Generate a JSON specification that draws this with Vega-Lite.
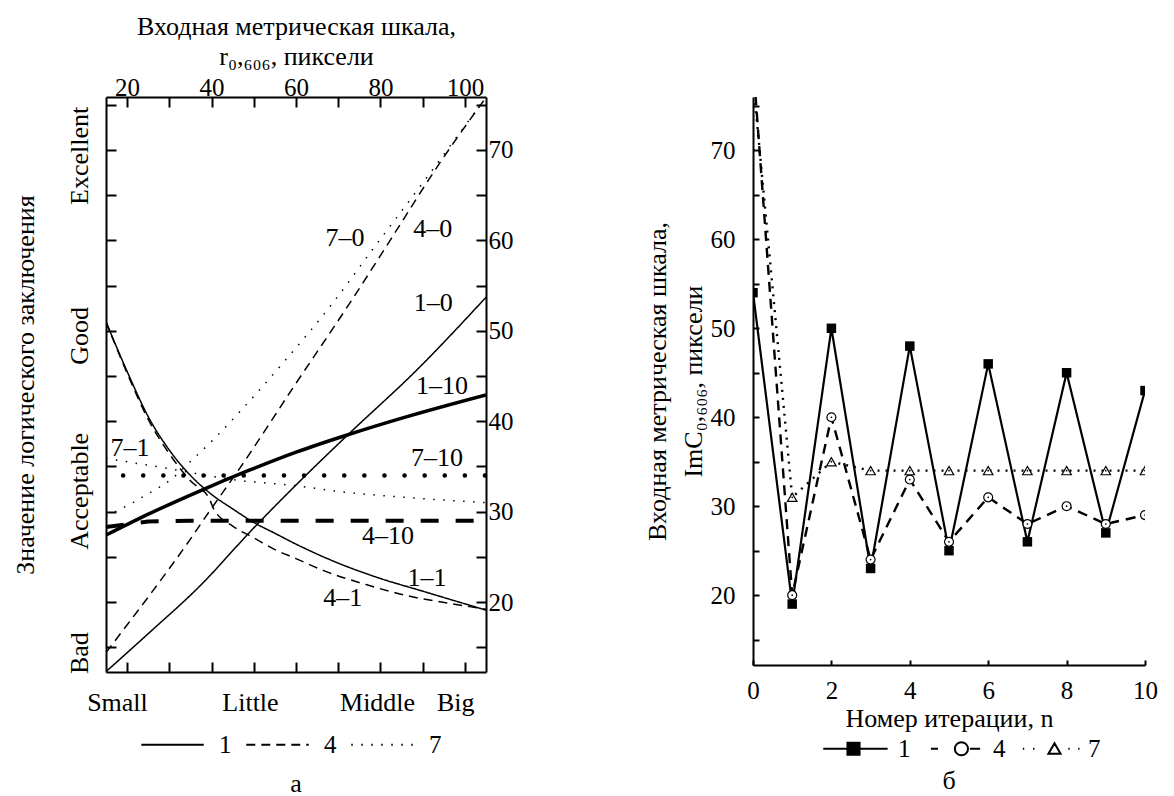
{
  "$schema": "https://vega.github.io/schema/vega-lite/v6.json",
  "padding": {"left": 11, "top": 13, "right": 10, "bottom": 3},
  "bounds": "flush",
  "spacing": 267,
  "datasets": {
    "curves": [
      {"series": "1–0", "g": "1", "k": "0", "x": 15, "y": 12.3},
      {"series": "1–0", "g": "1", "k": "0", "x": 25, "y": 16.5},
      {"series": "1–0", "g": "1", "k": "0", "x": 37.3, "y": 21.8},
      {"series": "1–0", "g": "1", "k": "0", "x": 49.8, "y": 28.1},
      {"series": "1–0", "g": "1", "k": "0", "x": 61, "y": 33.4},
      {"series": "1–0", "g": "1", "k": "0", "x": 72.3, "y": 38.5},
      {"series": "1–0", "g": "1", "k": "0", "x": 88.7, "y": 45.7},
      {"series": "1–0", "g": "1", "k": "0", "x": 105, "y": 53.7},
      {"series": "4–0", "g": "4", "k": "0", "x": 15, "y": 14.4},
      {"series": "4–0", "g": "4", "k": "0", "x": 17.6, "y": 16},
      {"series": "4–0", "g": "4", "k": "0", "x": 25.4, "y": 20.8},
      {"series": "4–0", "g": "4", "k": "0", "x": 34.9, "y": 26.9},
      {"series": "4–0", "g": "4", "k": "0", "x": 39.6, "y": 30.1},
      {"series": "4–0", "g": "4", "k": "0", "x": 46.7, "y": 34.8},
      {"series": "4–0", "g": "4", "k": "0", "x": 59.3, "y": 43.7},
      {"series": "4–0", "g": "4", "k": "0", "x": 73.5, "y": 53.6},
      {"series": "4–0", "g": "4", "k": "0", "x": 82.3, "y": 60},
      {"series": "4–0", "g": "4", "k": "0", "x": 93.4, "y": 68.1},
      {"series": "4–0", "g": "4", "k": "0", "x": 103.6, "y": 74.9},
      {"series": "4–0", "g": "4", "k": "0", "x": 105, "y": 75.8},
      {"series": "7–0", "g": "7", "k": "0", "x": 15, "y": 29.5},
      {"series": "7–0", "g": "7", "k": "0", "x": 21.4, "y": 31},
      {"series": "7–0", "g": "7", "k": "0", "x": 24.7, "y": 31.9},
      {"series": "7–0", "g": "7", "k": "0", "x": 30.5, "y": 33.6},
      {"series": "7–0", "g": "7", "k": "0", "x": 34.9, "y": 35.5},
      {"series": "7–0", "g": "7", "k": "0", "x": 40.3, "y": 37.9},
      {"series": "7–0", "g": "7", "k": "0", "x": 45.6, "y": 40.5},
      {"series": "7–0", "g": "7", "k": "0", "x": 50.3, "y": 42.9},
      {"series": "7–0", "g": "7", "k": "0", "x": 57.4, "y": 46.7},
      {"series": "7–0", "g": "7", "k": "0", "x": 68.1, "y": 52.7},
      {"series": "7–0", "g": "7", "k": "0", "x": 78, "y": 58.9},
      {"series": "7–0", "g": "7", "k": "0", "x": 90.1, "y": 66.4},
      {"series": "7–0", "g": "7", "k": "0", "x": 99.6, "y": 72.4},
      {"series": "7–0", "g": "7", "k": "0", "x": 104, "y": 75.2},
      {"series": "1–1", "g": "1", "k": "1", "x": 15, "y": 51},
      {"series": "1–1", "g": "1", "k": "1", "x": 20, "y": 45.5},
      {"series": "1–1", "g": "1", "k": "1", "x": 25, "y": 40.5},
      {"series": "1–1", "g": "1", "k": "1", "x": 30, "y": 36.8},
      {"series": "1–1", "g": "1", "k": "1", "x": 35, "y": 34},
      {"series": "1–1", "g": "1", "k": "1", "x": 40, "y": 31.9},
      {"series": "1–1", "g": "1", "k": "1", "x": 45, "y": 30.3},
      {"series": "1–1", "g": "1", "k": "1", "x": 50, "y": 28.8},
      {"series": "1–1", "g": "1", "k": "1", "x": 55, "y": 27.6},
      {"series": "1–1", "g": "1", "k": "1", "x": 60, "y": 26.4},
      {"series": "1–1", "g": "1", "k": "1", "x": 70, "y": 24.3},
      {"series": "1–1", "g": "1", "k": "1", "x": 80, "y": 22.6},
      {"series": "1–1", "g": "1", "k": "1", "x": 90, "y": 21.2},
      {"series": "1–1", "g": "1", "k": "1", "x": 100, "y": 19.8},
      {"series": "1–1", "g": "1", "k": "1", "x": 105, "y": 19.1},
      {"series": "4–1", "g": "4", "k": "1", "x": 15, "y": 51},
      {"series": "4–1", "g": "4", "k": "1", "x": 20, "y": 45.3},
      {"series": "4–1", "g": "4", "k": "1", "x": 25, "y": 40.2},
      {"series": "4–1", "g": "4", "k": "1", "x": 30, "y": 36.4},
      {"series": "4–1", "g": "4", "k": "1", "x": 35, "y": 33.4},
      {"series": "4–1", "g": "4", "k": "1", "x": 39.5, "y": 31.4},
      {"series": "4–1", "g": "4", "k": "1", "x": 40.5, "y": 30.3},
      {"series": "4–1", "g": "4", "k": "1", "x": 45, "y": 28.4},
      {"series": "4–1", "g": "4", "k": "1", "x": 50, "y": 27.1},
      {"series": "4–1", "g": "4", "k": "1", "x": 55, "y": 25.8},
      {"series": "4–1", "g": "4", "k": "1", "x": 60, "y": 24.8},
      {"series": "4–1", "g": "4", "k": "1", "x": 66.4, "y": 23.5},
      {"series": "4–1", "g": "4", "k": "1", "x": 76.8, "y": 21.9},
      {"series": "4–1", "g": "4", "k": "1", "x": 86.3, "y": 20.7},
      {"series": "4–1", "g": "4", "k": "1", "x": 95.8, "y": 19.9},
      {"series": "4–1", "g": "4", "k": "1", "x": 105, "y": 19.2},
      {"series": "7–1", "g": "7", "k": "1", "x": 15, "y": 35.9},
      {"series": "7–1", "g": "7", "k": "1", "x": 21.4, "y": 35.4},
      {"series": "7–1", "g": "7", "k": "1", "x": 29.4, "y": 34.8},
      {"series": "7–1", "g": "7", "k": "1", "x": 40, "y": 33.9},
      {"series": "7–1", "g": "7", "k": "1", "x": 47.4, "y": 33.4},
      {"series": "7–1", "g": "7", "k": "1", "x": 54.6, "y": 33.1},
      {"series": "7–1", "g": "7", "k": "1", "x": 61, "y": 32.8},
      {"series": "7–1", "g": "7", "k": "1", "x": 70.4, "y": 32.2},
      {"series": "7–1", "g": "7", "k": "1", "x": 82.3, "y": 31.7},
      {"series": "7–1", "g": "7", "k": "1", "x": 94.1, "y": 31.3},
      {"series": "7–1", "g": "7", "k": "1", "x": 105, "y": 31},
      {"series": "1–10", "g": "1", "k": "10", "x": 15, "y": 27.4},
      {"series": "1–10", "g": "1", "k": "10", "x": 25.4, "y": 29.8},
      {"series": "1–10", "g": "1", "k": "10", "x": 37.3, "y": 32.3},
      {"series": "1–10", "g": "1", "k": "10", "x": 49.1, "y": 34.6},
      {"series": "1–10", "g": "1", "k": "10", "x": 60.2, "y": 36.6},
      {"series": "1–10", "g": "1", "k": "10", "x": 72.3, "y": 38.5},
      {"series": "1–10", "g": "1", "k": "10", "x": 86.3, "y": 40.5},
      {"series": "1–10", "g": "1", "k": "10", "x": 105, "y": 42.9},
      {"series": "4–10", "g": "4", "k": "10", "x": 15, "y": 28.3},
      {"series": "4–10", "g": "4", "k": "10", "x": 25, "y": 28.9},
      {"series": "4–10", "g": "4", "k": "10", "x": 35, "y": 29},
      {"series": "4–10", "g": "4", "k": "10", "x": 105, "y": 29},
      {"series": "7–10", "g": "7", "k": "10", "x": 15, "y": 34},
      {"series": "7–10", "g": "7", "k": "10", "x": 105, "y": 34}
    ],
    "labels": [
      {"label": "7–0", "x": 71.6, "y": 60.3},
      {"label": "4–0", "x": 92.4, "y": 61.2},
      {"label": "1–0", "x": 92.5, "y": 53.1},
      {"label": "1–10", "x": 94.6, "y": 43.9},
      {"label": "7–10", "x": 93.4, "y": 35.9},
      {"label": "7–1", "x": 20.7, "y": 37.0},
      {"label": "4–10", "x": 81.8, "y": 27.3},
      {"label": "1–1", "x": 91, "y": 22.7},
      {"label": "4–1", "x": 71.1, "y": 20.4}
    ],
    "iter": [
      {"s": "1", "n": 0, "v": 54}, {"s": "1", "n": 1, "v": 19}, {"s": "1", "n": 2, "v": 50},
      {"s": "1", "n": 3, "v": 23}, {"s": "1", "n": 4, "v": 48}, {"s": "1", "n": 5, "v": 25},
      {"s": "1", "n": 6, "v": 46}, {"s": "1", "n": 7, "v": 26}, {"s": "1", "n": 8, "v": 45},
      {"s": "1", "n": 9, "v": 27}, {"s": "1", "n": 10, "v": 43},
      {"s": "4", "n": 0, "v": 80}, {"s": "4", "n": 1, "v": 20}, {"s": "4", "n": 2, "v": 40},
      {"s": "4", "n": 3, "v": 24}, {"s": "4", "n": 4, "v": 33}, {"s": "4", "n": 5, "v": 26},
      {"s": "4", "n": 6, "v": 31}, {"s": "4", "n": 7, "v": 28}, {"s": "4", "n": 8, "v": 30},
      {"s": "4", "n": 9, "v": 28}, {"s": "4", "n": 10, "v": 29},
      {"s": "7", "n": 0, "v": 78}, {"s": "7", "n": 1, "v": 31}, {"s": "7", "n": 2, "v": 35},
      {"s": "7", "n": 3, "v": 34}, {"s": "7", "n": 4, "v": 34}, {"s": "7", "n": 5, "v": 34},
      {"s": "7", "n": 6, "v": 34}, {"s": "7", "n": 7, "v": 34}, {"s": "7", "n": 8, "v": 34},
      {"s": "7", "n": 9, "v": 34}, {"s": "7", "n": 10, "v": 34}
    ]
  },
  "hconcat": [
    {
      "width": 380,
      "height": 575,
      "title": {"text": "а", "orient": "bottom", "offset": 13},
      "data": {"name": "curves"},
      "resolve": {"axis": {"x": "independent", "y": "independent"}},
      "layer": [
        {
          "transform": [{"filter": "datum.k !== '10'"}],
          "mark": {"type": "line", "color": "black", "strokeWidth": 1.5, "interpolate": "monotone", "clip": true},
          "encoding": {
            "x": {"field": "x", "type": "quantitative", "scale": {"domain": [15, 105], "nice": false, "zero": false},
              "axis": {"orient": "top", "values": [20, 30, 40, 50, 60, 70, 80, 90, 100],
                "labelExpr": "datum.value % 20 === 0 ? datum.label : ''",
                "tickSize": -10, "labelPadding": 7, "labelFontSize": 25,
                "title": ["Входная метрическая шкала,", "r₀,₆₀₆, пиксели"], "titlePadding": 6, "titleLineHeight": 30}},
            "y": {"field": "y", "type": "quantitative", "scale": {"domain": [12.26, 75.85], "nice": false, "zero": false},
              "axis": {"orient": "right", "values": [15, 20, 25, 30, 35, 40, 45, 50, 55, 60, 65, 70, 75],
                "labelExpr": "datum.value % 10 === 0 ? datum.label : ''",
                "tickSize": -10, "labelPadding": 12, "labelFontSize": 25, "title": null}},
            "detail": {"field": "series"},
            "strokeDash": {"field": "g", "type": "nominal",
              "scale": {"domain": ["1", "4", "7"], "range": [[1, 0], [9, 6], [1.5, 8.5]]},
              "legend": {"orient": "none", "legendX": 34, "legendY": 615, "direction": "horizontal", "title": null, "symbolType": "stroke",
                "symbolSize": 3900, "symbolStrokeWidth": 1.8, "symbolStrokeColor": "black",
                "labelFontSize": 25, "columnPadding": 10, "labelOffset": 14}}
          }
        },
        {
          "transform": [{"filter": "datum.series === '1–10'"}],
          "mark": {"type": "line", "color": "black", "strokeWidth": 3.5, "interpolate": "monotone", "clip": true},
          "encoding": {
            "x": {"field": "x", "type": "quantitative", "scale": {"domain": [15, 105], "nice": false, "zero": false},
              "axis": {"orient": "bottom", "values": [17.6, 20, 30, 40, 49.1, 50, 60, 70, 79.2, 80, 90, 97.7, 100],
                "labelExpr": "datum.value === 17.6 ? 'Small' : datum.value === 49.1 ? 'Little' : datum.value === 79.2 ? 'Middle' : datum.value === 97.7 ? 'Big' : ''",
                "tickOpacity": {"condition": {"test": "datum.value % 10 === 0", "value": 1}, "value": 0},
                "tickSize": -10, "labelPadding": 27, "title": null}},
            "y": {"field": "y", "type": "quantitative", "scale": {"domain": [12.26, 75.85], "nice": false, "zero": false},
              "axis": {"orient": "left", "values": [14.4, 15, 20, 25, 30, 32.3, 35, 40, 45, 49.5, 50, 55, 60, 65, 69.4, 70, 75],
                "labelExpr": "datum.value === 14.4 ? 'Bad' : datum.value === 32.3 ? 'Acceptable' : datum.value === 49.5 ? 'Good' : datum.value === 69.4 ? 'Excellent' : ''",
                "labelAngle": -90, "labelAlign": "center", "labelBaseline": "bottom",
                "tickOpacity": {"condition": {"test": "datum.value % 5 === 0", "value": 1}, "value": 0},
                "tickSize": -10, "labelPadding": 24,
                "title": "Значение логического заключения", "titlePadding": 28}}
          }
        },
        {
          "transform": [{"filter": "datum.series === '4–10'"}],
          "mark": {"type": "line", "color": "black", "strokeWidth": 4, "strokeDash": [18, 17], "clip": true},
          "encoding": {
            "x": {"field": "x", "type": "quantitative", "scale": {"domain": [15, 105], "nice": false, "zero": false}, "axis": null},
            "y": {"field": "y", "type": "quantitative", "scale": {"domain": [12.26, 75.85], "nice": false, "zero": false}, "axis": null}
          }
        },
        {
          "transform": [{"filter": "datum.series === '7–10'"}],
          "mark": {"type": "line", "color": "black", "strokeWidth": 4.5, "strokeDash": [0.1, 20], "strokeDashOffset": 3, "strokeCap": "round", "clip": true},
          "encoding": {
            "x": {"field": "x", "type": "quantitative", "scale": {"domain": [15, 105], "nice": false, "zero": false}, "axis": null},
            "y": {"field": "y", "type": "quantitative", "scale": {"domain": [12.26, 75.85], "nice": false, "zero": false}, "axis": null}
          }
        },
        {
          "data": {"name": "labels"},
          "mark": {"type": "text", "font": "Liberation Serif", "fontSize": 26, "color": "black", "align": "center", "baseline": "middle"},
          "encoding": {
            "x": {"field": "x", "type": "quantitative", "scale": {"domain": [15, 105], "nice": false, "zero": false}, "axis": null},
            "y": {"field": "y", "type": "quantitative", "scale": {"domain": [12.26, 75.85], "nice": false, "zero": false}, "axis": null},
            "text": {"field": "label"}
          }
        }
      ]
    },
    {
      "width": 392,
      "height": 568,
      "title": {"text": "б", "orient": "bottom", "offset": 6},
      "data": {"name": "iter"},
      "layer": [
        {
          "transform": [{"filter": "datum.s === '1'"}],
          "mark": {"type": "line", "color": "black", "strokeWidth": 2.2, "clip": true},
          "encoding": {
            "x": {"field": "n", "type": "quantitative", "scale": {"domain": [0, 10], "nice": false, "zero": false},
              "axis": {"orient": "bottom", "values": [0, 1, 2, 3, 4, 5, 6, 7, 8, 9, 10],
                "labelExpr": "datum.value % 2 === 0 ? datum.label : ''",
                "tickSize": -5, "labelPadding": 18, "labelFontSize": 25, "title": "Номер итерации, n", "titlePadding": 2}},
            "y": {"field": "v", "type": "quantitative", "scale": {"domain": [12.15, 76], "nice": false, "zero": false},
              "axis": {"orient": "left", "values": [15, 20, 25, 30, 35, 40, 45, 50, 55, 60, 65, 70, 75],
                "labelExpr": "datum.value % 10 === 0 ? datum.label : ''",
                "tickSize": -6, "labelPadding": 24, "labelFontSize": 25,
                "title": ["Входная метрическая шкала,", "ImC₀,₆₀₆, пиксели"], "titlePadding": 4, "titleLineHeight": 36}}
          }
        },
        {
          "transform": [{"filter": "datum.s === '4'"}],
          "mark": {"type": "line", "color": "black", "strokeWidth": 2.4, "strokeDash": [10, 7], "clip": true},
          "encoding": {
            "x": {"field": "n", "type": "quantitative", "scale": {"domain": [0, 10], "nice": false, "zero": false}},
            "y": {"field": "v", "type": "quantitative", "scale": {"domain": [12.15, 76], "nice": false, "zero": false}}
          }
        },
        {
          "transform": [{"filter": "datum.s === '7'"}],
          "mark": {"type": "line", "color": "black", "strokeWidth": 2.4, "strokeDash": [2, 6], "clip": true},
          "encoding": {
            "x": {"field": "n", "type": "quantitative", "scale": {"domain": [0, 10], "nice": false, "zero": false}},
            "y": {"field": "v", "type": "quantitative", "scale": {"domain": [12.15, 76], "nice": false, "zero": false}}
          }
        },
        {
          "transform": [{"filter": "datum.s === '1'"}],
          "mark": {"type": "point", "shape": "square", "filled": true, "color": "black", "opacity": 1, "size": 90, "clip": true},
          "encoding": {
            "x": {"field": "n", "type": "quantitative", "scale": {"domain": [0, 10], "nice": false, "zero": false}},
            "y": {"field": "v", "type": "quantitative", "scale": {"domain": [12.15, 76], "nice": false, "zero": false}}
          }
        },
        {
          "transform": [{"filter": "datum.s === '4'"}],
          "mark": {"type": "point", "shape": "circle", "fill": "white", "stroke": "black", "strokeWidth": 1.2, "opacity": 1, "size": 80, "clip": true},
          "encoding": {
            "x": {"field": "n", "type": "quantitative", "scale": {"domain": [0, 10], "nice": false, "zero": false}},
            "y": {"field": "v", "type": "quantitative", "scale": {"domain": [12.15, 76], "nice": false, "zero": false}}
          }
        },
        {
          "transform": [{"filter": "datum.s === '7'"}],
          "mark": {"type": "point", "shape": "triangle-up", "fill": "white", "stroke": "black", "strokeWidth": 1.2, "opacity": 1, "size": 90, "clip": true},
          "encoding": {
            "x": {"field": "n", "type": "quantitative", "scale": {"domain": [0, 10], "nice": false, "zero": false}},
            "y": {"field": "v", "type": "quantitative", "scale": {"domain": [12.15, 76], "nice": false, "zero": false}}
          }
        },
        {
          "transform": [{"filter": "datum.s !== '1'"}],
          "mark": {"type": "circle", "color": "black", "size": 3, "opacity": 1, "clip": true},
          "encoding": {
            "x": {"field": "n", "type": "quantitative", "scale": {"domain": [0, 10], "nice": false, "zero": false}},
            "y": {"field": "v", "type": "quantitative", "scale": {"domain": [12.15, 76], "nice": false, "zero": false}}
          }
        },
        {
          "transform": [{"filter": "false"}],
          "mark": {"type": "point", "stroke": "black", "strokeWidth": 2, "opacity": 1},
          "encoding": {
            "x": {"field": "n", "type": "quantitative", "scale": {"domain": [0, 10], "nice": false, "zero": false}},
            "y": {"field": "v", "type": "quantitative", "scale": {"domain": [12.15, 76], "nice": false, "zero": false}},
            "shape": {"field": "s", "type": "nominal",
              "scale": {"domain": ["1", "4", "7"], "range": [
                "M-1.1,0H-0.22M-0.22,-0.22H0.22V0.22H-0.22ZM0.22,0H1.24",
                "M-0.64,0H-0.38M0.23,0A0.24,0.24,0,1,1,0.71,0A0.24,0.24,0,1,1,0.23,0M0.78,0H1.15",
                "M-0.75,0h0.05M-0.38,0h0.05M0.4,-0.2L0.62,0.18H0.18ZM0.9,0h0.05M1.26,0h0.05"]},
              "legend": {"orient": "none", "legendX": 72, "legendY": 623, "direction": "horizontal", "title": null,
                "symbolSize": 3025, "labelFontSize": 25, "labelOffset": 16, "columnPadding": 9,
                "symbolStrokeColor": "black", "symbolStrokeWidth": 2, "symbolOpacity": 1}},
            "fill": {"field": "s", "type": "nominal",
              "scale": {"domain": ["1", "4", "7"], "range": ["black", "white", "white"]},
              "legend": {"orient": "none", "legendX": 72, "legendY": 623, "direction": "horizontal", "title": null,
                "symbolSize": 3025, "labelFontSize": 25, "labelOffset": 16, "columnPadding": 9,
                "symbolStrokeColor": "black", "symbolStrokeWidth": 2, "symbolOpacity": 1}},
            "stroke": {"field": "s", "type": "nominal",
              "scale": {"domain": ["1", "4", "7"], "range": ["black", "black", "black"]},
              "legend": {"orient": "none", "legendX": 72, "legendY": 623, "direction": "horizontal", "title": null,
                "symbolSize": 3025, "labelFontSize": 25, "labelOffset": 16, "columnPadding": 9,
                "symbolStrokeColor": "black", "symbolStrokeWidth": 2, "symbolOpacity": 1}}
          }
        }
      ]
    }
  ],
  "resolve": {"scale": {"strokeDash": "independent", "shape": "independent", "fill": "independent", "stroke": "independent"}, "legend": {"strokeDash": "independent", "shape": "independent", "fill": "independent", "stroke": "independent"}},
  "config": {
    "font": "Liberation Serif",
    "view": {"stroke": null},
    "axis": {"labelFont": "Liberation Serif", "titleFont": "Liberation Serif", "labelFontSize": 26, "titleFontSize": 26,
      "titleFontWeight": "normal", "labelColor": "black", "titleColor": "black", "domainColor": "black", "tickColor": "black",
      "domainWidth": 2, "tickWidth": 2, "grid": false, "labelOverlap": false, "labelFlush": false, "labelBound": false},
    "legend": {"labelFont": "Liberation Serif", "labelFontSize": 25, "labelColor": "black"},
    "title": {"font": "Liberation Serif", "fontSize": 26, "fontWeight": "normal", "color": "black"}
  }
}
